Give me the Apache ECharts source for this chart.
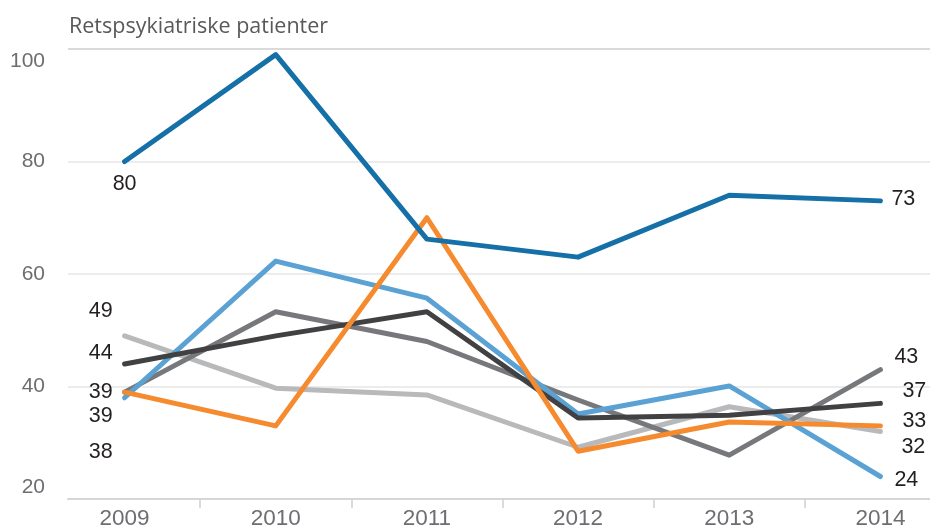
<!DOCTYPE html>
<html>
<head>
<meta charset="utf-8">
<script src="https://cdn.jsdelivr.net/npm/echarts@6/dist/echarts.min.js"></script>
<style>
  html, body { margin: 0; padding: 0; background: #fff; }
  #chart { width: 930px; height: 529px; }
</style>
</head>
<body>
<div id="chart"></div>
<script>
// Years on the x axis
const years = ['2009', '2010', '2011', '2012', '2013', '2014'];
// Y axis ticks
const yMin = 20;
const yMax = 100;
const yStep = 20;

// Six series of patient counts
const darkBlue  = [80, 99, 66.2, 63, 74, 73];
const lightBlue = [38, 62.3, 55.7, 35.1, 40.1, 24];
const orange    = [39, 33, 70, 28.5, 33.7, 33];
const midGray   = [39, 53.3, 48, 37.6, 27.8, 43];
const charcoal  = [44, 49, 53.3, 34.4, 34.9, 37];
const lightGray = [49, 39.7, 38.5, 29.2, 36.4, 32];

const title = 'Retspsykiatriske patienter';

// Placement of the end labels: [first label, last label] as {align, offset}
const labelPlacement = {
  darkBlue:  [{ align: 'center', offset: [0, 23] },  { align: 'left', offset: [11, -2] }],
  lightBlue: [{ align: 'right', offset: [-12, 54] }, { align: 'left', offset: [14, 4] }],
  orange:    [{ align: 'right', offset: [-12, 24] }, { align: 'left', offset: [22, -5] }],
  midGray:   [{ align: 'right', offset: [-12, 0] },  { align: 'left', offset: [14, -13] }],
  charcoal:  [{ align: 'right', offset: [-12, -11] },{ align: 'left', offset: [22, -12] }],
  lightGray: [{ align: 'right', offset: [-12, -25] },{ align: 'left', offset: [21, 16] }]
};

function buildData(values, placement) {
  const last = values.length - 1;
  return values.map(function (v, i) {
    if (i === 0 || i === last) {
      const p = placement[i === 0 ? 0 : 1];
      return {
        value: v,
        label: {
          show: true,
          position: 'inside',
          align: p.align,
          verticalAlign: 'middle',
          offset: p.offset,
          formatter: String(v)
        }
      };
    }
    return { value: v, label: { show: false } };
  });
}

function lineSeries(name, values, color, placement) {
  return {
    name: name,
    type: 'line',
    xAxisIndex: 1,
    yAxisIndex: 1,
    data: buildData(values, placement),
    symbol: 'circle',
    symbolSize: 1,
    showSymbol: true,
    itemStyle: { color: color },
    lineStyle: { color: color, width: 5, cap: 'round', join: 'round' },
    label: {
      color: '#231f20',
      fontFamily: 'Liberation Sans, Arial, sans-serif',
      fontSize: 21.5
    },
    emphasis: { disabled: true },
    silent: true,
    animation: false
  };
}

const chart = echarts.init(document.getElementById('chart'), null, { renderer: 'canvas' });

chart.setOption({
  backgroundColor: '#ffffff',
  animation: false,
  title: {
    text: title,
    left: 64,
    top: 11,
    textStyle: {
      fontFamily: 'Open Sans, sans-serif',
      fontWeight: 'normal',
      fontSize: 21.5,
      color: '#58595b'
    }
  },
  grid: [
    // background frame: gridlines, y labels and base line
    { left: 68, right: 0, top: 49, bottom: 30, containLabel: false, outerBoundsMode: 'none' },
    // plotting area for the lines, wider than the canvas on the right
    { left: 49, width: 907, top: 49, bottom: 30, containLabel: false, outerBoundsMode: 'none' }
  ],
  xAxis: [
    {
      gridIndex: 0,
      type: 'value',
      min: 0,
      max: 1,
      axisLine: { show: true, lineStyle: { color: '#d6d6d6', width: 2 } },
      axisTick: { show: false },
      axisLabel: { show: false },
      splitLine: { show: false }
    },
    {
      gridIndex: 1,
      type: 'category',
      data: years,
      boundaryGap: true,
      axisLine: { show: false },
      axisTick: {
        show: true,
        length: 9,
        interval: function (index) { return index !== 0; },
        lineStyle: { color: '#d0d0d0', width: 1.5 }
      },
      axisLabel: {
        color: '#6d6e71',
        fontFamily: 'Liberation Sans, Arial, sans-serif',
        fontSize: 22.5,
        margin: 8
      },
      splitLine: { show: false }
    }
  ],
  yAxis: [
    {
      gridIndex: 0,
      type: 'value',
      min: yMin,
      max: yMax,
      interval: yStep,
      axisLine: { show: false },
      axisTick: { show: false },
      splitLine: {
        show: true,
        lineStyle: { color: ['#d6d6d6', '#ececec', '#ececec', '#ececec', '#dadada'], width: 2 }
      },
      axisLabel: {
        margin: 23,
        color: '#6d6e71',
        fontFamily: 'Liberation Sans, Arial, sans-serif',
        fontSize: 21,
        formatter: function (v) {
          if (v === yMax) return '{top|' + v + '}';
          if (v === yMin) return '{bot|' + v + '}';
          return '{mid|' + v + '}';
        },
        rich: {
          top: { padding: [24, 0, 0, 0], fontSize: 21, color: '#6d6e71', fontFamily: 'Liberation Sans, Arial, sans-serif' },
          bot: { padding: [0, 0, 24, 0], fontSize: 21, color: '#6d6e71', fontFamily: 'Liberation Sans, Arial, sans-serif' },
          mid: { fontSize: 21, color: '#6d6e71', fontFamily: 'Liberation Sans, Arial, sans-serif' }
        }
      }
    },
    {
      gridIndex: 1,
      type: 'value',
      min: yMin,
      max: yMax,
      interval: yStep,
      show: false,
      splitLine: { show: false }
    }
  ],
  series: [
    lineSeries('lightGray', lightGray, '#b8b9bb', labelPlacement.lightGray),
    lineSeries('midGray', midGray, '#77787b', labelPlacement.midGray),
    lineSeries('lightBlue', lightBlue, '#5aa2d4', labelPlacement.lightBlue),
    lineSeries('charcoal', charcoal, '#414143', labelPlacement.charcoal),
    lineSeries('orange', orange, '#f58a2e', labelPlacement.orange),
    lineSeries('darkBlue', darkBlue, '#1570a7', labelPlacement.darkBlue)
  ]
});
</script>
</body>
</html>
